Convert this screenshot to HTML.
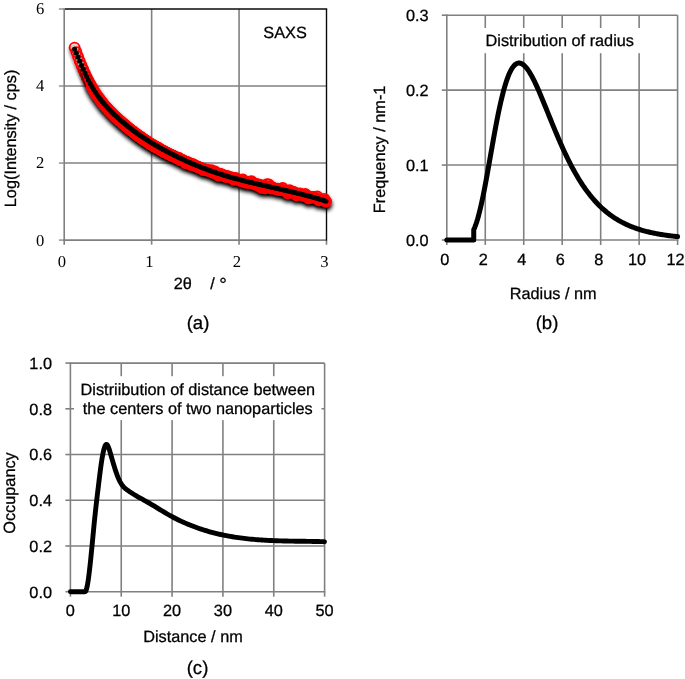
<!DOCTYPE html>
<html lang="en">
<head>
<meta charset="utf-8">
<title>SAXS analysis figure</title>
<style>
html,body{margin:0;padding:0;background:#fff;}
body{width:685px;height:679px;overflow:hidden;font-family:"Liberation Sans",sans-serif;}
svg{display:block;}
text{fill:#000;text-rendering:geometricPrecision;stroke:#000;stroke-width:0.28px;}
svg{opacity:.9999;}
</style>
</head>
<body>
<svg width="685" height="679" viewBox="0 0 685 679">
<defs>
<filter id="sh" x="-5%" y="-8%" width="110%" height="120%">
<feGaussianBlur in="SourceAlpha" stdDeviation="1.9" result="b"/>
<feOffset in="b" dx="0" dy="3.4" result="o"/>
<feComponentTransfer in="o" result="s"><feFuncA type="linear" slope="1.15"/></feComponentTransfer>
<feMerge><feMergeNode in="s"/><feMergeNode in="SourceGraphic"/></feMerge>
</filter>
<filter id="sh2" x="-50%" y="-20%" width="200%" height="150%">
<feGaussianBlur in="SourceAlpha" stdDeviation="1.4" result="b"/>
<feOffset in="b" dx="0" dy="3" result="o"/>
<feComponentTransfer in="o" result="s"><feFuncA type="linear" slope="0.5"/></feComponentTransfer>
<feMerge><feMergeNode in="s"/><feMergeNode in="SourceGraphic"/></feMerge>
</filter>
</defs>
<rect width="685" height="679" fill="#fff"/>
<g id="chart-a">
<line x1="151.63" y1="9" x2="151.63" y2="240.1" stroke="#808080" stroke-width="1.6" />
<line x1="239.07" y1="9" x2="239.07" y2="240.1" stroke="#808080" stroke-width="1.6" />
<line x1="64.2" y1="163.07" x2="326.5" y2="163.07" stroke="#808080" stroke-width="1.6" />
<line x1="64.2" y1="86.03" x2="326.5" y2="86.03" stroke="#808080" stroke-width="1.6" />
<line x1="58.9" y1="240.1" x2="64.2" y2="240.1" stroke="#9a9a9a" stroke-width="1.6" />
<line x1="58.9" y1="163.07" x2="64.2" y2="163.07" stroke="#9a9a9a" stroke-width="1.6" />
<line x1="58.9" y1="86.03" x2="64.2" y2="86.03" stroke="#9a9a9a" stroke-width="1.6" />
<line x1="58.9" y1="9" x2="64.2" y2="9" stroke="#9a9a9a" stroke-width="1.6" />
<line x1="64.2" y1="240.1" x2="64.2" y2="244.7" stroke="#808080" stroke-width="1.6" />
<line x1="151.63" y1="240.1" x2="151.63" y2="244.7" stroke="#808080" stroke-width="1.6" />
<line x1="239.07" y1="240.1" x2="239.07" y2="244.7" stroke="#808080" stroke-width="1.6" />
<line x1="326.5" y1="240.1" x2="326.5" y2="244.7" stroke="#808080" stroke-width="1.6" />
<line x1="64.2" y1="8.25" x2="64.2" y2="240.85" stroke="#808080" stroke-width="1.6" />
<line x1="63.45" y1="240.1" x2="326.5" y2="240.1" stroke="#808080" stroke-width="1.6" />
<line x1="65" y1="9" x2="327.2" y2="9" stroke="#0a0a0a" stroke-width="1.6" />
<line x1="326.5" y1="9" x2="326.5" y2="240.6" stroke="#0a0a0a" stroke-width="1.4" />
<g filter="url(#sh2)" fill="none" stroke="#f00" stroke-width="1.9">
<circle cx="74.6" cy="47.62" r="5.0"/>
<circle cx="76.33" cy="52.08" r="5.0"/>
<circle cx="78.07" cy="56.65" r="5.0"/>
<circle cx="79.8" cy="61.2" r="5.0"/>
<circle cx="81.54" cy="65.49" r="5.0"/>
<circle cx="83.27" cy="69.51" r="5.0"/>
<circle cx="85" cy="73.39" r="5.0"/>
<circle cx="86.74" cy="77.16" r="5.0"/>
<circle cx="88.47" cy="80.7" r="5.0"/>
<circle cx="90.2" cy="83.91" r="5.0"/>
</g>
<g filter="url(#sh)">
<g fill="#f00">
<circle cx="82" cy="66.59" r="2"/>
<circle cx="82.8" cy="68.45" r="2.21"/>
<circle cx="83.6" cy="70.29" r="2.42"/>
<circle cx="84.4" cy="72.09" r="2.62"/>
<circle cx="85.2" cy="73.85" r="2.83"/>
<circle cx="86" cy="75.58" r="3.04"/>
<circle cx="86.8" cy="77.27" r="3.25"/>
<circle cx="87.6" cy="78.92" r="3.46"/>
<circle cx="88.4" cy="80.53" r="3.66"/>
<circle cx="89.2" cy="82.09" r="3.87"/>
<circle cx="90" cy="83.62" r="4.08"/>
<circle cx="90.8" cy="85.1" r="4.29"/>
<circle cx="91.6" cy="86.54" r="4.5"/>
<circle cx="92.4" cy="87.93" r="4.65"/>
<circle cx="93.2" cy="89.28" r="4.76"/>
<circle cx="94" cy="90.6" r="4.87"/>
<circle cx="94.8" cy="91.89" r="4.98"/>
<circle cx="95.6" cy="93.14" r="5.09"/>
<circle cx="96.4" cy="94.36" r="5.2"/>
<circle cx="97.2" cy="95.55" r="5.31"/>
<circle cx="98" cy="96.71" r="5.42"/>
<circle cx="98.8" cy="97.84" r="5.53"/>
<circle cx="99.6" cy="98.95" r="5.64"/>
<circle cx="100.4" cy="100.03" r="5.7"/>
<circle cx="101.2" cy="101.08" r="5.71"/>
<circle cx="102" cy="102.11" r="5.72"/>
<circle cx="102.8" cy="103.11" r="5.73"/>
<circle cx="103.6" cy="104.1" r="5.74"/>
<circle cx="104.4" cy="105.06" r="5.74"/>
<circle cx="105.2" cy="106" r="5.75"/>
<circle cx="106" cy="106.92" r="5.76"/>
<circle cx="106.8" cy="107.82" r="5.77"/>
<circle cx="107.6" cy="108.71" r="5.78"/>
<circle cx="108.4" cy="109.57" r="5.78"/>
<circle cx="109.2" cy="110.43" r="5.79"/>
<circle cx="110" cy="111.26" r="5.8"/>
<circle cx="110.8" cy="112.08" r="5.81"/>
<circle cx="111.6" cy="112.89" r="5.82"/>
<circle cx="112.4" cy="113.69" r="5.82"/>
<circle cx="113.2" cy="114.47" r="5.83"/>
<circle cx="114" cy="115.25" r="5.84"/>
<circle cx="114.8" cy="116.02" r="5.85"/>
<circle cx="115.6" cy="116.78" r="5.86"/>
<circle cx="116.4" cy="117.53" r="5.86"/>
<circle cx="117.2" cy="118.27" r="5.87"/>
<circle cx="118" cy="119.01" r="5.88"/>
<circle cx="118.8" cy="119.74" r="5.89"/>
<circle cx="119.6" cy="120.47" r="5.9"/>
<circle cx="120.4" cy="121.18" r="5.9"/>
<circle cx="121.2" cy="121.89" r="5.91"/>
<circle cx="122" cy="122.6" r="5.92"/>
<circle cx="122.8" cy="123.29" r="5.93"/>
<circle cx="123.6" cy="123.98" r="5.94"/>
<circle cx="124.4" cy="124.67" r="5.94"/>
<circle cx="125.2" cy="125.35" r="5.95"/>
<circle cx="126" cy="126.02" r="5.96"/>
<circle cx="126.8" cy="126.68" r="5.97"/>
<circle cx="127.6" cy="127.34" r="5.98"/>
<circle cx="128.4" cy="127.99" r="5.98"/>
<circle cx="129.2" cy="128.64" r="5.99"/>
<circle cx="130" cy="129.28" r="6"/>
<circle cx="130.8" cy="129.91" r="6"/>
<circle cx="131.6" cy="130.54" r="6.01"/>
<circle cx="132.4" cy="131.16" r="6.01"/>
<circle cx="133.2" cy="131.78" r="6.01"/>
<circle cx="134" cy="132.39" r="6.02"/>
<circle cx="134.8" cy="133" r="6.02"/>
<circle cx="135.6" cy="133.59" r="6.03"/>
<circle cx="136.4" cy="134.19" r="6.03"/>
<circle cx="137.2" cy="134.78" r="6.03"/>
<circle cx="138" cy="135.36" r="6.04"/>
<circle cx="138.8" cy="135.94" r="6.04"/>
<circle cx="139.6" cy="136.51" r="6.04"/>
<circle cx="140.4" cy="137.08" r="6.05"/>
<circle cx="141.2" cy="137.64" r="6.05"/>
<circle cx="142" cy="138.2" r="6.05"/>
<circle cx="142.8" cy="138.75" r="6.06"/>
<circle cx="143.6" cy="139.3" r="6.06"/>
<circle cx="144.4" cy="139.84" r="6.07"/>
<circle cx="145.2" cy="140.38" r="6.07"/>
<circle cx="146" cy="140.91" r="6.07"/>
<circle cx="146.8" cy="141.44" r="6.08"/>
<circle cx="147.6" cy="141.97" r="6.08"/>
<circle cx="148.4" cy="142.48" r="6.08"/>
<circle cx="149.2" cy="143" r="6.09"/>
<circle cx="150" cy="143.51" r="6.09"/>
<circle cx="150.8" cy="144.02" r="6.09"/>
<circle cx="151.6" cy="144.51" r="6.1"/>
<circle cx="152.4" cy="145" r="6.1"/>
<circle cx="153.2" cy="145.47" r="6.1"/>
<circle cx="154" cy="145.93" r="6.09"/>
<circle cx="154.8" cy="146.39" r="6.09"/>
<circle cx="155.6" cy="146.85" r="6.09"/>
<circle cx="156.4" cy="147.3" r="6.08"/>
<circle cx="157.2" cy="147.74" r="6.08"/>
<circle cx="158" cy="148.19" r="6.08"/>
<circle cx="158.8" cy="148.63" r="6.07"/>
<circle cx="159.6" cy="149.06" r="6.07"/>
<circle cx="160.4" cy="149.5" r="6.07"/>
<circle cx="161.2" cy="149.93" r="6.06"/>
<circle cx="162" cy="150.35" r="6.06"/>
<circle cx="162.8" cy="150.78" r="6.06"/>
<circle cx="163.6" cy="151.2" r="6.05"/>
<circle cx="164.4" cy="151.62" r="6.05"/>
<circle cx="165.2" cy="152.03" r="6.05"/>
<circle cx="166" cy="152.44" r="6.04"/>
<circle cx="166.8" cy="152.85" r="6.04"/>
<circle cx="167.6" cy="153.26" r="6.04"/>
<circle cx="168.4" cy="153.66" r="6.03"/>
<circle cx="169.2" cy="154.06" r="6.03"/>
<circle cx="170" cy="154.46" r="6.03"/>
<circle cx="170.8" cy="154.85" r="6.02"/>
<circle cx="171.6" cy="155.25" r="6.02"/>
<circle cx="172.4" cy="155.64" r="6.02"/>
<circle cx="173.2" cy="156.03" r="6.01"/>
<circle cx="174" cy="156.41" r="6.01"/>
<circle cx="174.8" cy="156.8" r="6.01"/>
<circle cx="175.6" cy="157.18" r="6"/>
<circle cx="176.4" cy="157.55" r="6"/>
<circle cx="177.2" cy="157.93" r="6"/>
<circle cx="178" cy="158.3" r="5.99"/>
<circle cx="178.8" cy="158.68" r="5.99"/>
<circle cx="179.6" cy="159.04" r="5.99"/>
<circle cx="180.4" cy="159.41" r="5.98"/>
<circle cx="181.2" cy="159.77" r="5.98"/>
<circle cx="182" cy="160.13" r="5.98"/>
<circle cx="182.8" cy="160.49" r="5.97"/>
<circle cx="183.6" cy="160.85" r="5.97"/>
<circle cx="184.4" cy="161.2" r="5.97"/>
<circle cx="185.2" cy="161.55" r="5.96"/>
<circle cx="186" cy="161.9" r="5.96"/>
<circle cx="186.8" cy="162.25" r="5.96"/>
<circle cx="187.6" cy="162.59" r="5.95"/>
<circle cx="188.4" cy="162.93" r="5.95"/>
<circle cx="189.2" cy="163.27" r="5.95"/>
<circle cx="190" cy="163.61" r="5.94"/>
<circle cx="190.8" cy="163.94" r="5.94"/>
<circle cx="191.6" cy="164.27" r="5.94"/>
<circle cx="192.4" cy="164.6" r="5.93"/>
<circle cx="193.2" cy="164.93" r="5.93"/>
<circle cx="194" cy="165.25" r="5.93"/>
<circle cx="194.8" cy="165.57" r="5.92"/>
<circle cx="195.6" cy="165.89" r="5.92"/>
<circle cx="196.4" cy="166.21" r="5.92"/>
<circle cx="197.2" cy="166.52" r="5.91"/>
<circle cx="198" cy="166.83" r="5.91"/>
<circle cx="198.8" cy="167.14" r="5.91"/>
<circle cx="199.6" cy="167.45" r="5.9"/>
<circle cx="200.4" cy="167.76" r="5.9"/>
<circle cx="201.2" cy="168.06" r="5.89"/>
<circle cx="202" cy="168.36" r="5.89"/>
<circle cx="202.8" cy="168.66" r="5.89"/>
<circle cx="203.6" cy="168.96" r="5.88"/>
<circle cx="204.4" cy="169.25" r="5.88"/>
<circle cx="205.2" cy="169.54" r="5.87"/>
<circle cx="206" cy="169.83" r="5.87"/>
<circle cx="206.8" cy="170.12" r="5.87"/>
<circle cx="207.6" cy="170.4" r="5.86"/>
<circle cx="208.4" cy="170.69" r="5.86"/>
<circle cx="209.2" cy="170.97" r="5.85"/>
<circle cx="210" cy="171.24" r="5.85"/>
<circle cx="210.8" cy="171.52" r="5.85"/>
<circle cx="211.6" cy="171.79" r="5.84"/>
<circle cx="212.4" cy="172.06" r="5.84"/>
<circle cx="213.2" cy="172.32" r="5.83"/>
<circle cx="214" cy="172.59" r="5.83"/>
<circle cx="214.8" cy="172.85" r="5.83"/>
<circle cx="215.6" cy="173.11" r="5.82"/>
<circle cx="216.4" cy="173.36" r="5.82"/>
<circle cx="217.2" cy="173.62" r="5.81"/>
<circle cx="218" cy="173.87" r="5.81"/>
<circle cx="218.8" cy="174.12" r="5.81"/>
<circle cx="219.6" cy="174.37" r="5.8"/>
<circle cx="220.4" cy="174.61" r="5.8"/>
<circle cx="221.2" cy="174.85" r="5.79"/>
<circle cx="222" cy="175.09" r="5.79"/>
<circle cx="222.8" cy="175.33" r="5.79"/>
<circle cx="223.6" cy="175.57" r="5.78"/>
<circle cx="224.4" cy="175.8" r="5.78"/>
<circle cx="225.2" cy="176.03" r="5.77"/>
<circle cx="226" cy="176.26" r="5.77"/>
<circle cx="226.8" cy="176.49" r="5.77"/>
<circle cx="227.6" cy="176.71" r="5.76"/>
<circle cx="228.4" cy="176.94" r="5.76"/>
<circle cx="229.2" cy="177.16" r="5.75"/>
<circle cx="230" cy="177.38" r="5.75"/>
<circle cx="230.8" cy="177.59" r="5.75"/>
<circle cx="231.6" cy="177.81" r="5.74"/>
<circle cx="232.4" cy="178.02" r="5.74"/>
<circle cx="233.2" cy="178.24" r="5.73"/>
<circle cx="234" cy="178.45" r="5.73"/>
<circle cx="234.8" cy="178.66" r="5.73"/>
<circle cx="235.6" cy="178.87" r="5.72"/>
<circle cx="236.4" cy="179.08" r="5.72"/>
<circle cx="237.2" cy="179.3" r="5.71"/>
<circle cx="238" cy="179.51" r="5.71"/>
<circle cx="238.8" cy="179.72" r="5.71"/>
<circle cx="239.6" cy="179.93" r="5.7"/>
<circle cx="240.4" cy="180.13" r="5.7"/>
<circle cx="241.2" cy="180.34" r="5.69"/>
<circle cx="242" cy="180.54" r="5.69"/>
<circle cx="242.8" cy="180.75" r="5.69"/>
<circle cx="243.6" cy="180.95" r="5.68"/>
<circle cx="244.4" cy="181.15" r="5.68"/>
<circle cx="245.2" cy="181.35" r="5.67"/>
<circle cx="246" cy="181.54" r="5.67"/>
<circle cx="246.8" cy="181.74" r="5.67"/>
<circle cx="247.6" cy="181.94" r="5.66"/>
<circle cx="248.4" cy="182.13" r="5.66"/>
<circle cx="249.2" cy="182.32" r="5.65"/>
<circle cx="250" cy="182.52" r="5.65"/>
<circle cx="250.8" cy="182.71" r="5.65"/>
<circle cx="251.6" cy="182.9" r="5.64"/>
<circle cx="252.4" cy="183.09" r="5.64"/>
<circle cx="253.2" cy="183.28" r="5.63"/>
<circle cx="254" cy="183.46" r="5.63"/>
<circle cx="254.8" cy="183.65" r="5.63"/>
<circle cx="255.6" cy="183.84" r="5.62"/>
<circle cx="256.4" cy="184.02" r="5.62"/>
<circle cx="257.2" cy="184.21" r="5.61"/>
<circle cx="258" cy="184.39" r="5.61"/>
<circle cx="258.8" cy="184.57" r="5.61"/>
<circle cx="259.6" cy="184.75" r="5.6"/>
<circle cx="260.4" cy="184.94" r="5.6"/>
<circle cx="261.2" cy="185.12" r="5.59"/>
<circle cx="262" cy="185.3" r="5.59"/>
<circle cx="262.8" cy="185.48" r="5.59"/>
<circle cx="263.6" cy="185.66" r="5.58"/>
<circle cx="264.4" cy="185.84" r="5.58"/>
<circle cx="265.2" cy="186.02" r="5.57"/>
<circle cx="266" cy="186.2" r="5.57"/>
<circle cx="266.8" cy="186.38" r="5.57"/>
<circle cx="267.6" cy="186.55" r="5.56"/>
<circle cx="268.4" cy="186.73" r="5.56"/>
<circle cx="269.2" cy="186.91" r="5.55"/>
<circle cx="270" cy="187.09" r="5.55"/>
<circle cx="270.8" cy="187.27" r="5.55"/>
<circle cx="271.6" cy="187.44" r="5.54"/>
<circle cx="272.4" cy="187.62" r="5.54"/>
<circle cx="273.2" cy="187.8" r="5.53"/>
<circle cx="274" cy="187.98" r="5.53"/>
<circle cx="274.8" cy="188.15" r="5.53"/>
<circle cx="275.6" cy="188.33" r="5.52"/>
<circle cx="276.4" cy="188.51" r="5.52"/>
<circle cx="277.2" cy="188.69" r="5.51"/>
<circle cx="278" cy="188.86" r="5.51"/>
<circle cx="278.8" cy="189.04" r="5.51"/>
<circle cx="279.6" cy="189.22" r="5.5"/>
<circle cx="280.4" cy="189.4" r="5.5"/>
<circle cx="281.2" cy="189.58" r="5.5"/>
<circle cx="282" cy="189.76" r="5.5"/>
<circle cx="282.8" cy="189.94" r="5.5"/>
<circle cx="283.6" cy="190.12" r="5.5"/>
<circle cx="284.4" cy="190.3" r="5.5"/>
<circle cx="285.2" cy="190.48" r="5.5"/>
<circle cx="286" cy="190.66" r="5.5"/>
<circle cx="286.8" cy="190.84" r="5.5"/>
<circle cx="287.6" cy="191.03" r="5.5"/>
<circle cx="288.4" cy="191.21" r="5.5"/>
<circle cx="289.2" cy="191.39" r="5.5"/>
<circle cx="290" cy="191.58" r="5.5"/>
<circle cx="290.8" cy="191.76" r="5.5"/>
<circle cx="291.6" cy="191.95" r="5.5"/>
<circle cx="292.4" cy="192.14" r="5.5"/>
<circle cx="293.2" cy="192.32" r="5.5"/>
<circle cx="294" cy="192.51" r="5.5"/>
<circle cx="294.8" cy="192.7" r="5.5"/>
<circle cx="295.6" cy="192.89" r="5.5"/>
<circle cx="296.4" cy="193.09" r="5.5"/>
<circle cx="297.2" cy="193.28" r="5.5"/>
<circle cx="298" cy="193.47" r="5.5"/>
<circle cx="298.8" cy="193.67" r="5.5"/>
<circle cx="299.6" cy="193.86" r="5.5"/>
<circle cx="300.4" cy="194.06" r="5.5"/>
<circle cx="301.2" cy="194.26" r="5.5"/>
<circle cx="302" cy="194.46" r="5.5"/>
<circle cx="302.8" cy="194.66" r="5.5"/>
<circle cx="303.6" cy="194.86" r="5.5"/>
<circle cx="304.4" cy="195.06" r="5.5"/>
<circle cx="305.2" cy="195.27" r="5.5"/>
<circle cx="306" cy="195.47" r="5.5"/>
<circle cx="306.8" cy="195.68" r="5.5"/>
<circle cx="307.6" cy="195.89" r="5.5"/>
<circle cx="308.4" cy="196.1" r="5.5"/>
<circle cx="309.2" cy="196.31" r="5.5"/>
<circle cx="310" cy="196.53" r="5.5"/>
<circle cx="310.8" cy="196.74" r="5.5"/>
<circle cx="311.6" cy="196.96" r="5.5"/>
<circle cx="312.4" cy="197.18" r="5.5"/>
<circle cx="313.2" cy="197.4" r="5.5"/>
<circle cx="314" cy="197.62" r="5.5"/>
<circle cx="314.8" cy="197.84" r="5.5"/>
<circle cx="315.6" cy="198.07" r="5.5"/>
<circle cx="316.4" cy="198.29" r="5.5"/>
<circle cx="317.2" cy="198.52" r="5.5"/>
<circle cx="318" cy="198.75" r="5.5"/>
<circle cx="318.8" cy="198.99" r="5.5"/>
<circle cx="319.6" cy="199.22" r="5.5"/>
<circle cx="320.4" cy="199.46" r="5.5"/>
<circle cx="321.2" cy="199.7" r="5.5"/>
<circle cx="322" cy="199.94" r="5.5"/>
<circle cx="322.8" cy="200.18" r="5.5"/>
<circle cx="323.6" cy="200.43" r="5.5"/>
<circle cx="324.4" cy="200.67" r="5.5"/>
<circle cx="325.2" cy="200.92" r="5.5"/>
<circle cx="326" cy="201.18" r="5.5"/>
</g>
<g fill="none" stroke="#f00" stroke-width="1.9">
<circle cx="91.94" cy="87.04" r="5.0"/>
<circle cx="93.67" cy="90.01" r="5.0"/>
<circle cx="95.41" cy="92.92" r="5.0"/>
<circle cx="97.14" cy="95.54" r="5.0"/>
<circle cx="98.87" cy="97.76" r="5.0"/>
<circle cx="100.61" cy="100.13" r="5.0"/>
<circle cx="102.34" cy="102.66" r="5.0"/>
<circle cx="104.07" cy="104.93" r="5.0"/>
<circle cx="105.81" cy="106.7" r="5.0"/>
<circle cx="107.54" cy="108.52" r="5.0"/>
<circle cx="109.28" cy="110.7" r="5.0"/>
<circle cx="111.01" cy="112.24" r="5.0"/>
<circle cx="112.74" cy="114.16" r="5.0"/>
<circle cx="114.48" cy="116.01" r="5.0"/>
<circle cx="116.21" cy="117.48" r="5.0"/>
<circle cx="117.94" cy="118.98" r="5.0"/>
<circle cx="119.68" cy="120.69" r="5.0"/>
<circle cx="121.41" cy="121.94" r="5.0"/>
<circle cx="123.15" cy="123.55" r="5.0"/>
<circle cx="124.88" cy="124.95" r="5.0"/>
<circle cx="126.61" cy="126.48" r="5.0"/>
<circle cx="128.35" cy="127.84" r="5.0"/>
<circle cx="130.08" cy="129.3" r="5.0"/>
<circle cx="131.82" cy="130.61" r="5.0"/>
<circle cx="133.55" cy="132.07" r="5.0"/>
<circle cx="135.28" cy="133.37" r="5.0"/>
<circle cx="137.02" cy="134.72" r="5.0"/>
<circle cx="138.75" cy="136.28" r="5.0"/>
<circle cx="140.48" cy="136.72" r="5.0"/>
<circle cx="142.22" cy="138.71" r="5.0"/>
<circle cx="143.95" cy="139.47" r="5.0"/>
<circle cx="145.69" cy="140.35" r="5.0"/>
<circle cx="147.42" cy="141.8" r="5.0"/>
<circle cx="149.15" cy="143" r="5.0"/>
<circle cx="150.89" cy="144.4" r="5.0"/>
<circle cx="152.62" cy="144.79" r="5.0"/>
<circle cx="154.35" cy="146.21" r="5.0"/>
<circle cx="156.09" cy="147.16" r="5.0"/>
<circle cx="157.82" cy="147.48" r="5.0"/>
<circle cx="159.56" cy="148.59" r="5.0"/>
<circle cx="161.29" cy="150.21" r="5.0"/>
<circle cx="163.02" cy="151.18" r="5.0"/>
<circle cx="164.76" cy="152.26" r="5.0"/>
<circle cx="166.49" cy="152.92" r="5.0"/>
<circle cx="168.22" cy="153.75" r="5.0"/>
<circle cx="169.96" cy="154.49" r="5.0"/>
<circle cx="171.69" cy="155.86" r="5.0"/>
<circle cx="173.43" cy="155.72" r="5.0"/>
<circle cx="175.16" cy="156.9" r="5.0"/>
<circle cx="176.89" cy="157.99" r="5.0"/>
<circle cx="178.63" cy="157.76" r="5.0"/>
<circle cx="180.36" cy="160.1" r="5.0"/>
<circle cx="182.1" cy="159.74" r="5.0"/>
<circle cx="183.83" cy="160.91" r="5.0"/>
<circle cx="185.56" cy="162.97" r="5.0"/>
<circle cx="187.3" cy="161.97" r="5.0"/>
<circle cx="189.03" cy="162.88" r="5.0"/>
<circle cx="190.76" cy="164.91" r="5.0"/>
<circle cx="192.5" cy="163.95" r="5.0"/>
<circle cx="194.23" cy="165.06" r="5.0"/>
<circle cx="195.97" cy="166.38" r="5.0"/>
<circle cx="197.7" cy="167.03" r="5.0"/>
<circle cx="199.43" cy="167.8" r="5.0"/>
<circle cx="201.17" cy="168.31" r="5.0"/>
<circle cx="202.9" cy="169.67" r="5.0"/>
<circle cx="204.63" cy="170.08" r="5.0"/>
<circle cx="206.37" cy="170.41" r="5.0"/>
<circle cx="208.1" cy="170.07" r="5.0"/>
<circle cx="209.84" cy="170.64" r="5.0"/>
<circle cx="211.57" cy="170.29" r="5.0"/>
<circle cx="213.3" cy="172.9" r="5.0"/>
<circle cx="215.04" cy="171.47" r="5.0"/>
<circle cx="216.77" cy="174.2" r="5.0"/>
<circle cx="218.5" cy="175.55" r="5.0"/>
<circle cx="220.24" cy="173.67" r="5.0"/>
<circle cx="221.97" cy="174.5" r="5.0"/>
<circle cx="223.71" cy="175.19" r="5.0"/>
<circle cx="225.44" cy="176.82" r="5.0"/>
<circle cx="227.17" cy="175.83" r="5.0"/>
<circle cx="228.91" cy="176.96" r="5.0"/>
<circle cx="230.64" cy="177.08" r="5.0"/>
<circle cx="232.38" cy="177.79" r="5.0"/>
<circle cx="234.11" cy="179.67" r="5.0"/>
<circle cx="235.84" cy="178.03" r="5.0"/>
<circle cx="237.58" cy="179.47" r="5.0"/>
<circle cx="239.31" cy="180.11" r="5.0"/>
<circle cx="241.04" cy="181.14" r="5.0"/>
<circle cx="242.78" cy="179.5" r="5.0"/>
<circle cx="244.51" cy="182.29" r="5.0"/>
<circle cx="246.25" cy="182.04" r="5.0"/>
<circle cx="247.98" cy="182.92" r="5.0"/>
<circle cx="249.71" cy="182.52" r="5.0"/>
<circle cx="251.45" cy="181.15" r="5.0"/>
<circle cx="253.18" cy="182.59" r="5.0"/>
<circle cx="254.91" cy="184.55" r="5.0"/>
<circle cx="256.65" cy="184.12" r="5.0"/>
<circle cx="258.38" cy="184.42" r="5.0"/>
<circle cx="260.12" cy="186.84" r="5.0"/>
<circle cx="261.85" cy="187.71" r="5.0"/>
<circle cx="263.58" cy="185.61" r="5.0"/>
<circle cx="265.32" cy="188.22" r="5.0"/>
<circle cx="267.05" cy="184.17" r="5.0"/>
<circle cx="268.78" cy="184.48" r="5.0"/>
<circle cx="270.52" cy="188.2" r="5.0"/>
<circle cx="272.25" cy="187.28" r="5.0"/>
<circle cx="273.99" cy="188.65" r="5.0"/>
<circle cx="275.72" cy="188.96" r="5.0"/>
<circle cx="277.45" cy="188.64" r="5.0"/>
<circle cx="279.19" cy="189.94" r="5.0"/>
<circle cx="280.92" cy="189.7" r="5.0"/>
<circle cx="282.66" cy="188.06" r="5.0"/>
<circle cx="284.39" cy="190.56" r="5.0"/>
<circle cx="286.12" cy="190.91" r="5.0"/>
<circle cx="287.86" cy="193.33" r="5.0"/>
<circle cx="289.59" cy="190.09" r="5.0"/>
<circle cx="291.32" cy="191.91" r="5.0"/>
<circle cx="293.06" cy="191.76" r="5.0"/>
<circle cx="294.79" cy="192.53" r="5.0"/>
<circle cx="296.53" cy="195.22" r="5.0"/>
<circle cx="298.26" cy="194.02" r="5.0"/>
<circle cx="299.99" cy="193.36" r="5.0"/>
<circle cx="301.73" cy="194.59" r="5.0"/>
<circle cx="303.46" cy="195.82" r="5.0"/>
<circle cx="305.19" cy="193.97" r="5.0"/>
<circle cx="306.93" cy="195.37" r="5.0"/>
<circle cx="308.66" cy="198.21" r="5.0"/>
<circle cx="310.4" cy="197.77" r="5.0"/>
<circle cx="312.13" cy="197.04" r="5.0"/>
<circle cx="313.86" cy="196.94" r="5.0"/>
<circle cx="315.6" cy="197.86" r="5.0"/>
<circle cx="317.33" cy="196.45" r="5.0"/>
<circle cx="319.06" cy="200.35" r="5.0"/>
<circle cx="320.8" cy="200.05" r="5.0"/>
<circle cx="322.53" cy="200.29" r="5.0"/>
<circle cx="324.27" cy="198.83" r="5.0"/>
<circle cx="326" cy="201.48" r="5.0"/>
</g>
</g>
<g fill="#000">
<circle cx="74.6" cy="49.22" r="2.5"/>
<circle cx="76.33" cy="53.17" r="2.5"/>
<circle cx="78.07" cy="57.24" r="2.5"/>
<circle cx="79.8" cy="61.34" r="2.5"/>
<circle cx="81.54" cy="65.4" r="2.5"/>
<circle cx="83.27" cy="69.35" r="2.5"/>
<circle cx="85" cy="73.15" r="2.5"/>
<circle cx="86.74" cy="76.77" r="2.5"/>
<circle cx="88.47" cy="80.21" r="2.5"/>
<circle cx="90.2" cy="83.45" r="2.5"/>
<circle cx="91.94" cy="86.51" r="2.5"/>
<circle cx="93.67" cy="89.41" r="2.5"/>
<circle cx="95.41" cy="92.14" r="2.5"/>
<circle cx="97.14" cy="94.73" r="2.5"/>
<circle cx="98.87" cy="97.18" r="2.5"/>
<circle cx="100.61" cy="99.5" r="2.5"/>
<circle cx="102.34" cy="101.7" r="2.5"/>
<circle cx="104.07" cy="103.79" r="2.5"/>
<circle cx="105.81" cy="105.79" r="2.5"/>
<circle cx="107.54" cy="107.69" r="2.5"/>
<circle cx="109.28" cy="109.52" r="2.5"/>
<circle cx="111.01" cy="111.28" r="2.5"/>
<circle cx="112.74" cy="112.98" r="2.5"/>
<circle cx="114.48" cy="114.63" r="2.5"/>
<circle cx="116.21" cy="116.25" r="2.5"/>
<circle cx="117.94" cy="117.83" r="2.5"/>
<circle cx="119.68" cy="119.38" r="2.5"/>
<circle cx="121.41" cy="120.89" r="2.5"/>
<circle cx="123.15" cy="122.37" r="2.5"/>
<circle cx="124.88" cy="123.83" r="2.5"/>
<circle cx="126.61" cy="125.25" r="2.5"/>
<circle cx="128.35" cy="126.64" r="2.5"/>
<circle cx="130.08" cy="128.01" r="2.5"/>
<circle cx="131.82" cy="129.34" r="2.5"/>
<circle cx="133.55" cy="130.65" r="2.5"/>
<circle cx="135.28" cy="131.94" r="2.5"/>
<circle cx="137.02" cy="133.19" r="2.5"/>
<circle cx="138.75" cy="134.42" r="2.5"/>
<circle cx="140.48" cy="135.63" r="2.5"/>
<circle cx="142.22" cy="136.81" r="2.5"/>
<circle cx="143.95" cy="137.97" r="2.5"/>
<circle cx="145.69" cy="139.11" r="2.5"/>
<circle cx="147.42" cy="140.22" r="2.5"/>
<circle cx="149.15" cy="141.32" r="2.5"/>
<circle cx="150.89" cy="142.39" r="2.5"/>
<circle cx="152.62" cy="143.45" r="2.5"/>
<circle cx="154.35" cy="144.48" r="2.5"/>
<circle cx="156.09" cy="145.5" r="2.5"/>
<circle cx="157.82" cy="146.5" r="2.5"/>
<circle cx="159.56" cy="147.48" r="2.5"/>
<circle cx="161.29" cy="148.45" r="2.5"/>
<circle cx="163.02" cy="149.4" r="2.5"/>
<circle cx="164.76" cy="150.34" r="2.5"/>
<circle cx="166.49" cy="151.26" r="2.5"/>
<circle cx="168.22" cy="152.18" r="2.5"/>
<circle cx="169.96" cy="153.07" r="2.5"/>
<circle cx="171.69" cy="153.96" r="2.5"/>
<circle cx="173.43" cy="154.84" r="2.5"/>
<circle cx="175.16" cy="155.7" r="2.5"/>
<circle cx="176.89" cy="156.55" r="2.5"/>
<circle cx="178.63" cy="157.39" r="2.5"/>
<circle cx="180.36" cy="158.22" r="2.5"/>
<circle cx="182.1" cy="159.04" r="2.5"/>
<circle cx="183.83" cy="159.85" r="2.5"/>
<circle cx="185.56" cy="160.64" r="2.5"/>
<circle cx="187.3" cy="161.42" r="2.5"/>
<circle cx="189.03" cy="162.2" r="2.5"/>
<circle cx="190.76" cy="162.95" r="2.5"/>
<circle cx="192.5" cy="163.7" r="2.5"/>
<circle cx="194.23" cy="164.44" r="2.5"/>
<circle cx="195.97" cy="165.16" r="2.5"/>
<circle cx="197.7" cy="165.87" r="2.5"/>
<circle cx="199.43" cy="166.57" r="2.5"/>
<circle cx="201.17" cy="167.26" r="2.5"/>
<circle cx="202.9" cy="167.94" r="2.5"/>
<circle cx="204.63" cy="168.6" r="2.5"/>
<circle cx="206.37" cy="169.26" r="2.5"/>
<circle cx="208.1" cy="169.9" r="2.5"/>
<circle cx="209.84" cy="170.53" r="2.5"/>
<circle cx="211.57" cy="171.14" r="2.5"/>
<circle cx="213.3" cy="171.75" r="2.5"/>
<circle cx="215.04" cy="172.34" r="2.5"/>
<circle cx="216.77" cy="172.92" r="2.5"/>
<circle cx="218.5" cy="173.49" r="2.5"/>
<circle cx="220.24" cy="174.05" r="2.5"/>
<circle cx="221.97" cy="174.6" r="2.5"/>
<circle cx="223.71" cy="175.14" r="2.5"/>
<circle cx="225.44" cy="175.66" r="2.5"/>
<circle cx="227.17" cy="176.18" r="2.5"/>
<circle cx="228.91" cy="176.69" r="2.5"/>
<circle cx="230.64" cy="177.19" r="2.5"/>
<circle cx="232.38" cy="177.68" r="2.5"/>
<circle cx="234.11" cy="178.16" r="2.5"/>
<circle cx="235.84" cy="178.64" r="2.5"/>
<circle cx="237.58" cy="179.11" r="2.5"/>
<circle cx="239.31" cy="179.57" r="2.5"/>
<circle cx="241.04" cy="180.02" r="2.5"/>
<circle cx="242.78" cy="180.47" r="2.5"/>
<circle cx="244.51" cy="180.91" r="2.5"/>
<circle cx="246.25" cy="181.34" r="2.5"/>
<circle cx="247.98" cy="181.77" r="2.5"/>
<circle cx="249.71" cy="182.2" r="2.5"/>
<circle cx="251.45" cy="182.62" r="2.5"/>
<circle cx="253.18" cy="183.03" r="2.5"/>
<circle cx="254.91" cy="183.44" r="2.5"/>
<circle cx="256.65" cy="183.85" r="2.5"/>
<circle cx="258.38" cy="184.25" r="2.5"/>
<circle cx="260.12" cy="184.65" r="2.5"/>
<circle cx="261.85" cy="185.05" r="2.5"/>
<circle cx="263.58" cy="185.45" r="2.5"/>
<circle cx="265.32" cy="185.84" r="2.5"/>
<circle cx="267.05" cy="186.24" r="2.5"/>
<circle cx="268.78" cy="186.63" r="2.5"/>
<circle cx="270.52" cy="187.02" r="2.5"/>
<circle cx="272.25" cy="187.41" r="2.5"/>
<circle cx="273.99" cy="187.8" r="2.5"/>
<circle cx="275.72" cy="188.19" r="2.5"/>
<circle cx="277.45" cy="188.58" r="2.5"/>
<circle cx="279.19" cy="188.97" r="2.5"/>
<circle cx="280.92" cy="189.37" r="2.5"/>
<circle cx="282.66" cy="189.76" r="2.5"/>
<circle cx="284.39" cy="190.16" r="2.5"/>
<circle cx="286.12" cy="190.56" r="2.5"/>
<circle cx="287.86" cy="190.96" r="2.5"/>
<circle cx="289.59" cy="191.36" r="2.5"/>
<circle cx="291.32" cy="191.77" r="2.5"/>
<circle cx="293.06" cy="192.18" r="2.5"/>
<circle cx="294.79" cy="192.6" r="2.5"/>
<circle cx="296.53" cy="193.02" r="2.5"/>
<circle cx="298.26" cy="193.44" r="2.5"/>
<circle cx="299.99" cy="193.87" r="2.5"/>
<circle cx="301.73" cy="194.31" r="2.5"/>
<circle cx="303.46" cy="194.75" r="2.5"/>
<circle cx="305.19" cy="195.2" r="2.5"/>
<circle cx="306.93" cy="195.65" r="2.5"/>
<circle cx="308.66" cy="196.11" r="2.5"/>
<circle cx="310.4" cy="196.58" r="2.5"/>
<circle cx="312.13" cy="197.06" r="2.5"/>
<circle cx="313.86" cy="197.54" r="2.5"/>
<circle cx="315.6" cy="198.03" r="2.5"/>
<circle cx="317.33" cy="198.53" r="2.5"/>
<circle cx="319.06" cy="199.04" r="2.5"/>
<circle cx="320.8" cy="199.56" r="2.5"/>
<circle cx="322.53" cy="200.09" r="2.5"/>
<circle cx="324.27" cy="200.63" r="2.5"/>
<circle cx="326" cy="201.18" r="2.5"/>
</g>
<text x="44.4" y="245.5" font-size="16.6" text-anchor="end" font-family='"Liberation Serif", serif' style="stroke:none">0</text>
<text x="44.4" y="168.47" font-size="16.6" text-anchor="end" font-family='"Liberation Serif", serif' style="stroke:none">2</text>
<text x="44.4" y="91.43" font-size="16.6" text-anchor="end" font-family='"Liberation Serif", serif' style="stroke:none">4</text>
<text x="44.4" y="14.4" font-size="16.6" text-anchor="end" font-family='"Liberation Serif", serif' style="stroke:none">6</text>
<text x="62" y="267.1" font-size="16.6" text-anchor="middle" font-family='"Liberation Serif", serif' style="stroke:none">0</text>
<text x="149.43" y="267.1" font-size="16.6" text-anchor="middle" font-family='"Liberation Serif", serif' style="stroke:none">1</text>
<text x="236.87" y="267.1" font-size="16.6" text-anchor="middle" font-family='"Liberation Serif", serif' style="stroke:none">2</text>
<text x="324.3" y="267.1" font-size="16.6" text-anchor="middle" font-family='"Liberation Serif", serif' style="stroke:none">3</text>
<text x="173.8" y="288.6" font-size="16.3" text-anchor="start" font-family='"Liberation Sans", sans-serif' >2θ</text>
<text x="210.2" y="288.6" font-size="16.3" text-anchor="start" font-family='"Liberation Sans", sans-serif' >/</text>
<text x="219.2" y="291.4" font-size="19" text-anchor="start" font-family='"Liberation Sans", sans-serif' >°</text>
<text x="285.1" y="38.1" font-size="16.3" text-anchor="middle" font-family='"Liberation Sans", sans-serif' >SAXS</text>
<text transform="translate(16.4 138.4) rotate(-90)" font-size="16.3" text-anchor="middle" font-family='"Liberation Sans", sans-serif'>Log(Intensity / cps)</text>
<text x="198" y="328.8" font-size="18.6" text-anchor="middle" font-family='"Liberation Sans", sans-serif' >(a)</text>
</g>
<g id="chart-b">
<line x1="485.27" y1="15.2" x2="485.27" y2="240" stroke="#808080" stroke-width="1.6" />
<line x1="523.73" y1="15.2" x2="523.73" y2="240" stroke="#808080" stroke-width="1.6" />
<line x1="562.2" y1="15.2" x2="562.2" y2="240" stroke="#808080" stroke-width="1.6" />
<line x1="600.67" y1="15.2" x2="600.67" y2="240" stroke="#808080" stroke-width="1.6" />
<line x1="639.13" y1="15.2" x2="639.13" y2="240" stroke="#808080" stroke-width="1.6" />
<line x1="677.6" y1="15.2" x2="677.6" y2="240" stroke="#808080" stroke-width="1.6" />
<line x1="446.8" y1="165.07" x2="677.6" y2="165.07" stroke="#808080" stroke-width="1.6" />
<line x1="446.8" y1="90.13" x2="677.6" y2="90.13" stroke="#808080" stroke-width="1.6" />
<line x1="446.8" y1="15.2" x2="677.6" y2="15.2" stroke="#808080" stroke-width="1.6" />
<line x1="441.8" y1="240" x2="446.8" y2="240" stroke="#808080" stroke-width="1.6" />
<line x1="441.8" y1="165.07" x2="446.8" y2="165.07" stroke="#808080" stroke-width="1.6" />
<line x1="441.8" y1="90.13" x2="446.8" y2="90.13" stroke="#808080" stroke-width="1.6" />
<line x1="441.8" y1="15.2" x2="446.8" y2="15.2" stroke="#808080" stroke-width="1.6" />
<line x1="446.8" y1="240" x2="446.8" y2="245" stroke="#808080" stroke-width="1.6" />
<line x1="485.27" y1="240" x2="485.27" y2="245" stroke="#808080" stroke-width="1.6" />
<line x1="523.73" y1="240" x2="523.73" y2="245" stroke="#808080" stroke-width="1.6" />
<line x1="562.2" y1="240" x2="562.2" y2="245" stroke="#808080" stroke-width="1.6" />
<line x1="600.67" y1="240" x2="600.67" y2="245" stroke="#808080" stroke-width="1.6" />
<line x1="639.13" y1="240" x2="639.13" y2="245" stroke="#808080" stroke-width="1.6" />
<line x1="677.6" y1="240" x2="677.6" y2="245" stroke="#808080" stroke-width="1.6" />
<line x1="446.8" y1="14.45" x2="446.8" y2="240.75" stroke="#808080" stroke-width="1.6" />
<line x1="446.05" y1="240" x2="678.35" y2="240" stroke="#808080" stroke-width="1.6" />
<rect x="478" y="28" width="166" height="25.2" fill="#fff"/>
<text x="559.8" y="46.3" font-size="16.3" text-anchor="middle" font-family='"Liberation Sans", sans-serif' >Distribution of radius</text>
<path d="M446.8 240 L473.73 240 L473.73 229.82 L474.66 227.65 L475.59 225.21 L476.52 222.49 L477.45 219.49 L478.38 216.23 L479.31 212.7 L480.24 208.91 L481.17 204.89 L482.11 200.64 L483.04 196.18 L483.97 191.53 L484.9 186.73 L485.83 181.77 L486.76 176.71 L487.69 171.54 L488.62 166.31 L489.55 161.04 L490.48 155.74 L491.41 150.45 L492.35 145.19 L493.28 139.98 L494.21 134.84 L495.14 129.78 L496.07 124.84 L497 120.02 L497.93 115.35 L498.86 110.83 L499.79 106.48 L500.72 102.31 L501.65 98.33 L502.59 94.55 L503.52 90.97 L504.45 87.61 L505.38 84.46 L506.31 81.53 L507.24 78.82 L508.17 76.33 L509.1 74.07 L510.03 72.03 L510.96 70.21 L511.89 68.6 L512.83 67.21 L513.76 66.03 L514.69 65.05 L515.62 64.28 L516.55 63.7 L517.48 63.3 L518.41 63.1 L519.34 63.06 L520.27 63.2 L521.2 63.5 L522.13 63.96 L523.07 64.57 L524 65.32 L524.93 66.2 L525.86 67.22 L526.79 68.35 L527.72 69.6 L528.65 70.96 L529.58 72.41 L530.51 73.96 L531.44 75.6 L532.38 77.32 L533.31 79.11 L534.24 80.97 L535.17 82.9 L536.1 84.88 L537.03 86.91 L537.96 88.99 L538.89 91.12 L539.82 93.28 L540.75 95.47 L541.68 97.69 L542.62 99.93 L543.55 102.19 L544.48 104.47 L545.41 106.76 L546.34 109.06 L547.27 111.36 L548.2 113.66 L549.13 115.97 L550.06 118.27 L550.99 120.56 L551.92 122.85 L552.86 125.13 L553.79 127.39 L554.72 129.64 L555.65 131.87 L556.58 134.08 L557.51 136.27 L558.44 138.44 L559.37 140.59 L560.3 142.72 L561.23 144.82 L562.16 146.89 L563.1 148.94 L564.03 150.96 L564.96 152.96 L565.89 154.92 L566.82 156.85 L567.75 158.76 L568.68 160.63 L569.61 162.47 L570.54 164.29 L571.47 166.07 L572.41 167.82 L573.34 169.54 L574.27 171.23 L575.2 172.88 L576.13 174.51 L577.06 176.1 L577.99 177.66 L578.92 179.19 L579.85 180.7 L580.78 182.17 L581.71 183.61 L582.65 185.02 L583.58 186.4 L584.51 187.75 L585.44 189.07 L586.37 190.36 L587.3 191.62 L588.23 192.86 L589.16 194.07 L590.09 195.25 L591.02 196.4 L591.95 197.53 L592.89 198.63 L593.82 199.71 L594.75 200.76 L595.68 201.78 L596.61 202.78 L597.54 203.76 L598.47 204.71 L599.4 205.64 L600.33 206.55 L601.26 207.44 L602.19 208.3 L603.13 209.14 L604.06 209.96 L604.99 210.76 L605.92 211.54 L606.85 212.31 L607.78 213.05 L608.71 213.77 L609.64 214.47 L610.57 215.16 L611.5 215.83 L612.44 216.48 L613.37 217.12 L614.3 217.73 L615.23 218.34 L616.16 218.92 L617.09 219.49 L618.02 220.05 L618.95 220.59 L619.88 221.12 L620.81 221.63 L621.74 222.13 L622.68 222.62 L623.61 223.09 L624.54 223.55 L625.47 224 L626.4 224.44 L627.33 224.86 L628.26 225.28 L629.19 225.68 L630.12 226.07 L631.05 226.45 L631.98 226.82 L632.92 227.18 L633.85 227.53 L634.78 227.87 L635.71 228.21 L636.64 228.53 L637.57 228.84 L638.5 229.15 L639.43 229.45 L640.36 229.74 L641.29 230.02 L642.22 230.29 L643.16 230.56 L644.09 230.82 L645.02 231.07 L645.95 231.31 L646.88 231.55 L647.81 231.78 L648.74 232.01 L649.67 232.23 L650.6 232.44 L651.53 232.65 L652.46 232.85 L653.4 233.04 L654.33 233.23 L655.26 233.42 L656.19 233.6 L657.12 233.77 L658.05 233.94 L658.98 234.11 L659.91 234.27 L660.84 234.43 L661.77 234.58 L662.71 234.73 L663.64 234.87 L664.57 235.01 L665.5 235.15 L666.43 235.28 L667.36 235.41 L668.29 235.53 L669.22 235.65 L670.15 235.77 L671.08 235.89 L672.01 236 L672.95 236.11 L673.88 236.21 L674.81 236.32 L675.74 236.42 L676.67 236.51 L677.6 236.61" fill="none" stroke="#000" stroke-width="5" stroke-linecap="round" stroke-linejoin="round"/>
<text x="428.6" y="245.8" font-size="16.3" text-anchor="end" font-family='"Liberation Sans", sans-serif' >0.0</text>
<text x="428.6" y="170.87" font-size="16.3" text-anchor="end" font-family='"Liberation Sans", sans-serif' >0.1</text>
<text x="428.6" y="95.93" font-size="16.3" text-anchor="end" font-family='"Liberation Sans", sans-serif' >0.2</text>
<text x="428.6" y="21" font-size="16.3" text-anchor="end" font-family='"Liberation Sans", sans-serif' >0.3</text>
<text x="444.8" y="264.6" font-size="16.3" text-anchor="middle" font-family='"Liberation Sans", sans-serif' >0</text>
<text x="483.27" y="264.6" font-size="16.3" text-anchor="middle" font-family='"Liberation Sans", sans-serif' >2</text>
<text x="521.73" y="264.6" font-size="16.3" text-anchor="middle" font-family='"Liberation Sans", sans-serif' >4</text>
<text x="560.2" y="264.6" font-size="16.3" text-anchor="middle" font-family='"Liberation Sans", sans-serif' >6</text>
<text x="598.67" y="264.6" font-size="16.3" text-anchor="middle" font-family='"Liberation Sans", sans-serif' >8</text>
<text x="637.13" y="264.6" font-size="16.3" text-anchor="middle" font-family='"Liberation Sans", sans-serif' >10</text>
<text x="675.6" y="264.6" font-size="16.3" text-anchor="middle" font-family='"Liberation Sans", sans-serif' >12</text>
<text x="553.2" y="298.5" font-size="16.3" text-anchor="middle" font-family='"Liberation Sans", sans-serif' >Radius / nm</text>
<text transform="translate(385.2 149.4) rotate(-90)" font-size="16.3" text-anchor="middle" font-family='"Liberation Sans", sans-serif'>Frequency / nm-1</text>
<text x="547" y="328.8" font-size="18.6" text-anchor="middle" font-family='"Liberation Sans", sans-serif' >(b)</text>
</g>
<g id="chart-c">
<line x1="121.24" y1="363.1" x2="121.24" y2="591.7" stroke="#808080" stroke-width="1.6" />
<line x1="172.08" y1="363.1" x2="172.08" y2="591.7" stroke="#808080" stroke-width="1.6" />
<line x1="222.92" y1="363.1" x2="222.92" y2="591.7" stroke="#808080" stroke-width="1.6" />
<line x1="273.76" y1="363.1" x2="273.76" y2="591.7" stroke="#808080" stroke-width="1.6" />
<line x1="324.6" y1="363.1" x2="324.6" y2="591.7" stroke="#808080" stroke-width="1.6" />
<line x1="70.4" y1="545.98" x2="324.6" y2="545.98" stroke="#808080" stroke-width="1.6" />
<line x1="70.4" y1="500.26" x2="324.6" y2="500.26" stroke="#808080" stroke-width="1.6" />
<line x1="70.4" y1="454.54" x2="324.6" y2="454.54" stroke="#808080" stroke-width="1.6" />
<line x1="70.4" y1="408.82" x2="324.6" y2="408.82" stroke="#808080" stroke-width="1.6" />
<line x1="70.4" y1="363.1" x2="324.6" y2="363.1" stroke="#808080" stroke-width="1.6" />
<line x1="65.4" y1="591.7" x2="70.4" y2="591.7" stroke="#808080" stroke-width="1.6" />
<line x1="65.4" y1="545.98" x2="70.4" y2="545.98" stroke="#808080" stroke-width="1.6" />
<line x1="65.4" y1="500.26" x2="70.4" y2="500.26" stroke="#808080" stroke-width="1.6" />
<line x1="65.4" y1="454.54" x2="70.4" y2="454.54" stroke="#808080" stroke-width="1.6" />
<line x1="65.4" y1="408.82" x2="70.4" y2="408.82" stroke="#808080" stroke-width="1.6" />
<line x1="65.4" y1="363.1" x2="70.4" y2="363.1" stroke="#808080" stroke-width="1.6" />
<line x1="70.4" y1="591.7" x2="70.4" y2="596.7" stroke="#808080" stroke-width="1.6" />
<line x1="121.24" y1="591.7" x2="121.24" y2="596.7" stroke="#808080" stroke-width="1.6" />
<line x1="172.08" y1="591.7" x2="172.08" y2="596.7" stroke="#808080" stroke-width="1.6" />
<line x1="222.92" y1="591.7" x2="222.92" y2="596.7" stroke="#808080" stroke-width="1.6" />
<line x1="273.76" y1="591.7" x2="273.76" y2="596.7" stroke="#808080" stroke-width="1.6" />
<line x1="324.6" y1="591.7" x2="324.6" y2="596.7" stroke="#808080" stroke-width="1.6" />
<line x1="70.4" y1="362.35" x2="70.4" y2="592.45" stroke="#808080" stroke-width="1.6" />
<line x1="69.65" y1="591.7" x2="325.35" y2="591.7" stroke="#808080" stroke-width="1.6" />
<rect x="74" y="376.2" width="247.5" height="43.9" fill="#fff"/>
<text x="197.8" y="394.8" font-size="16.3" text-anchor="middle" font-family='"Liberation Sans", sans-serif' >Distriibution of distance between</text>
<text x="197.8" y="413.7" font-size="16.3" text-anchor="middle" font-family='"Liberation Sans", sans-serif' >the centers of two nanoparticles</text>
<path d="M70.4 591.7 L85 591.7 L85.32 591.63 L85.65 591.29 L85.97 590.68 L86.29 589.82 L86.62 588.72 L86.94 587.39 L87.27 585.84 L87.59 584.09 L87.91 582.15 L88.24 580.02 L88.56 577.73 L88.88 575.29 L89.21 572.7 L89.53 569.97 L89.86 567.13 L90.18 564.18 L90.5 561.14 L90.83 558.01 L91.15 554.81 L91.47 551.55 L91.8 548.24 L92.12 544.9 L92.45 541.53 L92.77 538.15 L93.09 534.78 L93.42 531.42 L93.74 528.08 L94.06 524.78 L94.39 521.53 L94.71 518.34 L95.04 515.22 L95.36 512.18 L95.68 509.22 L96.01 506.33 L96.33 503.49 L96.65 500.7 L96.98 497.95 L97.3 495.23 L97.63 492.53 L97.95 489.85 L98.27 487.17 L98.6 484.49 L98.92 481.8 L99.24 479.12 L99.57 476.46 L99.89 473.86 L100.22 471.31 L100.54 468.85 L100.86 466.47 L101.19 464.19 L101.51 462.01 L101.83 459.93 L102.16 457.96 L102.48 456.1 L102.81 454.36 L103.13 452.74 L103.45 451.25 L103.78 449.89 L104.1 448.67 L104.42 447.59 L104.75 446.66 L105.07 445.88 L105.4 445.26 L105.72 444.8 L106.04 444.5 L106.37 444.38 L106.69 444.43 L107.01 444.64 L107.34 445 L107.66 445.5 L107.99 446.11 L108.31 446.84 L108.63 447.66 L108.96 448.56 L109.28 449.54 L109.6 450.57 L109.93 451.65 L110.25 452.76 L110.58 453.89 L110.9 455.03 L111.22 456.16 L111.55 457.3 L111.87 458.42 L112.19 459.55 L112.52 460.66 L112.84 461.77 L113.17 462.86 L113.49 463.95 L113.81 465.02 L114.14 466.09 L114.46 467.13 L114.78 468.16 L115.11 469.18 L115.43 470.18 L115.76 471.15 L116.08 472.11 L116.4 473.05 L116.73 473.96 L117.05 474.85 L117.37 475.72 L117.7 476.55 L118.02 477.36 L118.35 478.15 L118.67 478.9 L118.99 479.62 L119.32 480.31 L119.64 480.97 L119.96 481.59 L120.29 482.19 L120.61 482.76 L120.94 483.3 L121.26 483.81 L121.58 484.3 L121.91 484.77 L122.23 485.21 L122.55 485.63 L122.88 486.03 L123.2 486.42 L123.53 486.78 L123.85 487.13 L124.17 487.46 L124.5 487.77 L124.82 488.07 L125.14 488.36 L125.47 488.64 L125.79 488.91 L126.12 489.17 L126.44 489.42 L126.76 489.66 L127.09 489.9 L127.41 490.13 L127.73 490.36 L128.06 490.59 L128.38 490.82 L128.71 491.04 L129.03 491.26 L129.35 491.48 L129.68 491.7 L130 491.92 L130.5 492.25 L132.46 493.51 L134.42 494.72 L136.38 495.88 L138.34 497.02 L140.3 498.12 L142.26 499.22 L144.22 500.3 L146.18 501.4 L148.14 502.5 L150.1 503.63 L152.06 504.78 L154.02 505.96 L155.97 507.15 L157.93 508.36 L159.89 509.56 L161.85 510.76 L163.81 511.95 L165.77 513.11 L167.73 514.25 L169.69 515.36 L171.65 516.43 L173.61 517.48 L175.57 518.49 L177.53 519.47 L179.49 520.43 L181.45 521.36 L183.41 522.25 L185.37 523.12 L187.33 523.96 L189.29 524.78 L191.25 525.56 L193.21 526.33 L195.17 527.06 L197.13 527.77 L199.09 528.46 L201.05 529.12 L203.01 529.76 L204.96 530.37 L206.92 530.96 L208.88 531.53 L210.84 532.07 L212.8 532.6 L214.76 533.1 L216.72 533.58 L218.68 534.05 L220.64 534.49 L222.6 534.91 L224.56 535.32 L226.52 535.7 L228.48 536.07 L230.44 536.42 L232.4 536.76 L234.36 537.07 L236.32 537.37 L238.28 537.66 L240.24 537.93 L242.2 538.18 L244.16 538.42 L246.12 538.65 L248.08 538.86 L250.04 539.07 L251.99 539.25 L253.95 539.43 L255.91 539.6 L257.87 539.75 L259.83 539.89 L261.79 540.03 L263.75 540.15 L265.71 540.26 L267.67 540.37 L269.63 540.47 L271.59 540.56 L273.55 540.64 L275.51 540.71 L277.47 540.78 L279.43 540.84 L281.39 540.9 L283.35 540.95 L285.31 541 L287.27 541.04 L289.23 541.08 L291.19 541.12 L293.15 541.15 L295.11 541.19 L297.07 541.22 L299.03 541.24 L300.98 541.27 L302.94 541.3 L304.9 541.32 L306.86 541.35 L308.82 541.38 L310.78 541.41 L312.74 541.44 L314.7 541.47 L316.66 541.51 L318.62 541.55 L320.58 541.59 L322.54 541.64 L324.5 541.69" fill="none" stroke="#000" stroke-width="4.9" stroke-linecap="round" stroke-linejoin="round"/>
<text x="52" y="597.5" font-size="16.3" text-anchor="end" font-family='"Liberation Sans", sans-serif' >0.0</text>
<text x="52" y="551.78" font-size="16.3" text-anchor="end" font-family='"Liberation Sans", sans-serif' >0.2</text>
<text x="52" y="506.06" font-size="16.3" text-anchor="end" font-family='"Liberation Sans", sans-serif' >0.4</text>
<text x="52" y="460.34" font-size="16.3" text-anchor="end" font-family='"Liberation Sans", sans-serif' >0.6</text>
<text x="52" y="414.62" font-size="16.3" text-anchor="end" font-family='"Liberation Sans", sans-serif' >0.8</text>
<text x="52" y="368.9" font-size="16.3" text-anchor="end" font-family='"Liberation Sans", sans-serif' >1.0</text>
<text x="70.4" y="616" font-size="16.3" text-anchor="middle" font-family='"Liberation Sans", sans-serif' >0</text>
<text x="121.24" y="616" font-size="16.3" text-anchor="middle" font-family='"Liberation Sans", sans-serif' >10</text>
<text x="172.08" y="616" font-size="16.3" text-anchor="middle" font-family='"Liberation Sans", sans-serif' >20</text>
<text x="222.92" y="616" font-size="16.3" text-anchor="middle" font-family='"Liberation Sans", sans-serif' >30</text>
<text x="273.76" y="616" font-size="16.3" text-anchor="middle" font-family='"Liberation Sans", sans-serif' >40</text>
<text x="324.6" y="616" font-size="16.3" text-anchor="middle" font-family='"Liberation Sans", sans-serif' >50</text>
<text x="193" y="641.8" font-size="16.3" text-anchor="middle" font-family='"Liberation Sans", sans-serif' >Distance / nm</text>
<text transform="translate(14.6 493) rotate(-90)" font-size="16.3" text-anchor="middle" font-family='"Liberation Sans", sans-serif'>Occupancy</text>
<text x="197.5" y="674.4" font-size="18.6" text-anchor="middle" font-family='"Liberation Sans", sans-serif' >(c)</text>
</g>
</svg>
</body>
</html>
